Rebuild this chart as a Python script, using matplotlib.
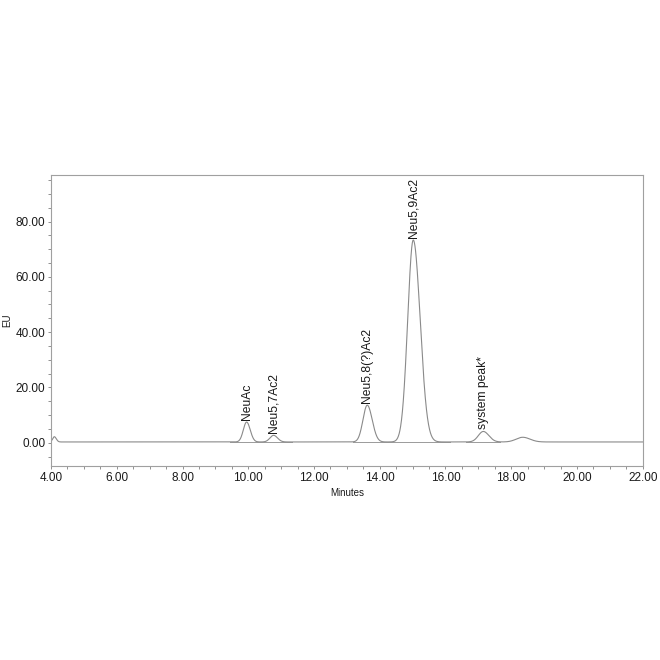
import numpy as np
import matplotlib
matplotlib.use("Agg")
import matplotlib.pyplot as plt
from matplotlib.ticker import MultipleLocator, FormatStrFormatter

# peak table (minutes, EU)
peak_rt = [4.10, 9.95, 10.77, 13.62, 15.02, 17.15, 18.35]
peak_height = [1.9, 7.2, 2.4, 13.3, 73.0, 3.8, 1.7]
peak_sigma_left = [0.05, 0.10, 0.11, 0.13, 0.17, 0.15, 0.20]
peak_sigma_right = [0.06, 0.11, 0.12, 0.15, 0.21, 0.17, 0.22]
peak_names = ["", "NeuAc", "Neu5,7Ac2", "Neu5,8(?)Ac2", "Neu5,9Ac2", "system peak*", ""]
baseline_level = 0.3

# integration baselines drawn under the named peaks
int_start = [9.43, 13.18, 14.35, 16.62]
int_end = [11.32, 14.30, 16.14, 17.66]

t = np.linspace(4.03, 22.0, 4000)
signal = np.full_like(t, baseline_level)
for rt, h, sl, sr in zip(peak_rt, peak_height, peak_sigma_left, peak_sigma_right):
    s = np.where(t < rt, sl, sr)
    signal += h * np.exp(-0.5 * ((t - rt) / s) ** 2)

plt.rcParams['font.family'] = ['Liberation Sans', 'DejaVu Sans']

fig = plt.figure(figsize=(6.6, 6.6), dpi=100)
ax = fig.add_axes([0.0773, 0.2939, 0.8965, 0.4409])

trace_col = "#8a8a8a"
for x0, x1 in zip(int_start, int_end):
    ax.plot([x0, x1], [baseline_level - 0.1, baseline_level - 0.1], color="#9a9a9a", lw=0.7)
ax.plot(t, signal, color=trace_col, lw=0.8)

for rt, h, name in zip(peak_rt, peak_height, peak_names):
    if name:
        ax.text(rt, h + baseline_level + 0.9, name, rotation=90, ha="center", va="bottom",
                fontsize=8.7, color="#1a1a1a")

ax.set_xlim(4.0, 22.0)
ax.set_ylim(-8.4, 96.8)
ax.xaxis.set_major_locator(MultipleLocator(2))
ax.xaxis.set_minor_locator(MultipleLocator(0.5))
ax.yaxis.set_major_locator(MultipleLocator(20))
ax.yaxis.set_minor_locator(MultipleLocator(5))
ax.xaxis.set_major_formatter(FormatStrFormatter("%.2f"))
ax.yaxis.set_major_formatter(FormatStrFormatter("%.2f"))

for sp in ax.spines.values():
    sp.set_color("#a0a0a0")
    sp.set_linewidth(0.8)
ax.tick_params(which="major", direction="out", length=2.5, width=0.6, color="#808080",
               labelsize=8.5, labelcolor="#1a1a1a", pad=1.5)
ax.tick_params(which="minor", direction="out", length=2.0, width=0.6, color="#808080")

ax.set_xlabel("Minutes", fontsize=7, color="#1a1a1a")
ax.set_ylabel("EU", fontsize=7, color="#1a1a1a")
ax.xaxis.set_label_coords(0.5, -0.075)
ax.yaxis.set_label_coords(-0.066, 0.5)

fig.savefig("out.png", dpi=100, facecolor="white")
